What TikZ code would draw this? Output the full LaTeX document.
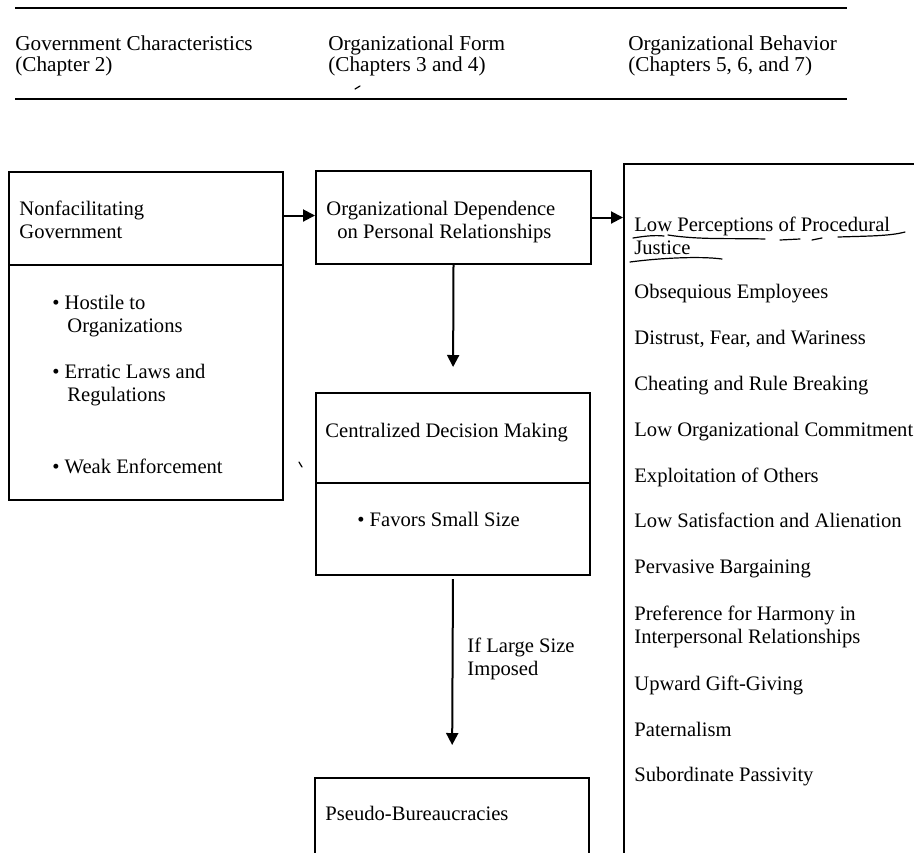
\documentclass[tikz,border=0pt]{standalone}
\usepackage{fontspec}
\setmainfont{Liberation Serif}
\usetikzlibrary{arrows.meta}
\tikzstyle{panel}=[draw,line width=1pt,inner sep=0pt]
\tikzstyle{txt}=[anchor=base west,inner sep=0pt,font=\fontsize{10.3}{12}\selectfont]
\tikzstyle{headtxt}=[anchor=base west,inner sep=0pt,font=\fontsize{10.6}{12}\selectfont]
\tikzstyle{arr}=[line width=1pt,-{Triangle[length=6pt,width=6pt]}]
\tikzstyle{scribble}=[line width=0.6pt,line cap=round]
\begin{document}
\begin{tikzpicture}[x=0.5pt,y=-0.5pt]
\clip (0,0) rectangle (914,852);
\draw[line width=1.2pt] (15,8) -- (847,8);
\draw[line width=1.2pt] (15,99) -- (847,99);
\node[headtxt] (h1a) at (15,50) {Government Characteristics};
\node[headtxt] (h1b) at (15,71) {(Chapter 2)};
\node[headtxt] (h2a) at (328,50) {Organizational Form};
\node[headtxt] (h2b) at (328,71) {(Chapters 3 and 4)};
\node[headtxt] (h3a) at (628,50) {Organizational Behavior};
\node[headtxt] (h3b) at (628,71) {(Chapters 5, 6, and 7)};
\node[panel, minimum width=137pt, minimum height=46.5pt] (gov) at (146,218.5) {};
\node[panel, minimum width=137pt, minimum height=117.5pt] (govlist) at (146,382.5) {};
\node[panel, minimum width=137.5pt, minimum height=46.5pt] (dep) at (453.5,217.5) {};
\node[panel, minimum width=137pt, minimum height=45pt] (cdm) at (453,438) {};
\node[panel, minimum width=137pt, minimum height=46pt] (cdmlist) at (453,529) {};
\node[panel, minimum width=137pt, minimum height=50pt] (pseudo) at (452,828) {};
\node[panel, minimum width=170pt, minimum height=370pt] (beh) at (794,534) {};
\node[txt] (gova) at (19,215) {Nonfacilitating};
\node[txt] (govb) at (19,238) {Government};
\node[txt] (hosa) at (52,309) {\textbullet\ Hostile to};
\node[txt] (hosb) at (67,332) {Organizations};
\node[txt] (erra) at (52,378) {\textbullet\ Erratic Laws and};
\node[txt] (errb) at (67,401) {Regulations};
\node[txt] (weak) at (52,473) {\textbullet\ Weak Enforcement};
\node[txt] (depa) at (326,215) {Organizational Dependence};
\node[txt] (depb) at (337,238) {on Personal Relationships};
\node[txt] (cdmt) at (325,437) {Centralized Decision Making};
\node[txt] (small) at (357,526) {\textbullet\ Favors Small Size};
\node[txt] (conda) at (467,652) {If Large Size};
\node[txt] (condb) at (467,675) {Imposed};
\node[txt] (pseudot) at (325,820) {Pseudo-Bureaucracies};
\node[txt] (b1a) at (634,231) {Low Perceptions of Procedural};
\node[txt] (b1b) at (634,254) {Justice};
\node[txt] (b2) at (634,298) {Obsequious Employees};
\node[txt] (b3) at (634,344) {Distrust, Fear, and Wariness};
\node[txt] (b4) at (634,390) {Cheating and Rule Breaking};
\node[txt] (b5) at (634,436) {Low Organizational Commitment};
\node[txt] (b6) at (634,482) {Exploitation of Others};
\node[txt] (b7) at (634,527) {Low Satisfaction and Alienation};
\node[txt] (b8) at (634,573) {Pervasive Bargaining};
\node[txt] (b9a) at (634,620) {Preference for Harmony in};
\node[txt] (b9b) at (634,643) {Interpersonal Relationships};
\node[txt] (b10) at (634,690) {Upward Gift-Giving};
\node[txt] (b11) at (634,736) {Paternalism};
\node[txt] (b12) at (634,781) {Subordinate Passivity};
\draw[arr] ([yshift=1.5pt]gov.east) -- ([yshift=1.5pt]gov.east -| dep.west);
\draw[arr] (dep.east) -- (dep.east -| beh.west);
\draw[arr, shorten >=12.5pt] (dep.south) -- (cdm.north);
\draw[arr, shorten <=1.5pt, shorten >=16pt] (cdmlist.south) -- (pseudo.north);
\draw[scribble] (633,238) .. controls (645,236) and (655,235) .. (664,236);
\draw[scribble] (668,235) .. controls (700,240) and (730,238) .. (765,239);
\draw[scribble] (780,240) -- (800,239);
\draw[scribble] (812,240) -- (822,238);
\draw[scribble] (838,237) .. controls (870,236) and (890,236) .. (905,232);
\draw[scribble] (630,262) .. controls (660,258) and (700,256) .. (722,259);
\draw[scribble] (355,89) -- (360,86);
\draw[scribble] (299,462) -- (302,467);
\end{tikzpicture}
\end{document}
